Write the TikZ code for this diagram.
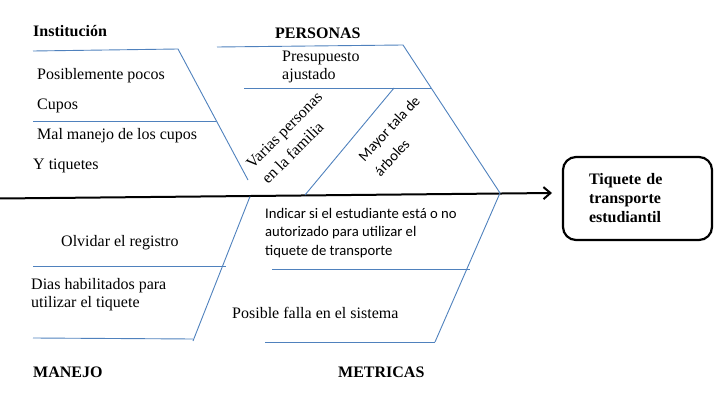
\documentclass[tikz,border=0pt]{standalone}
\usepackage{fontspec}
\setmainfont{Liberation Serif}
\newfontfamily\calibri{Carlito}
\usepackage{tikz}
\usetikzlibrary{arrows.meta}
\definecolor{bonedraw}{HTML}{4F81BD}
\tikzset{
  bone/.style={draw=bonedraw, line width=0.9pt},
  spine/.style={draw=black, line width=2pt, -{Straight Barb[length=7pt, width=12pt]}},
  cause/.style={anchor=base west, inner sep=0pt, align=left, font=\fontsize{16}{18}\selectfont},
  causesf/.style={cause, font=\calibri\fontsize{14.67}{18.5}\selectfont},
  head/.style={cause, font=\fontsize{16}{18}\selectfont\bfseries},
  slant/.style={inner sep=0pt, align=left},
  effect/.style={rectangle, rounded corners=13pt, draw=black, line width=2.2pt, align=left, font=\fontsize{16}{19}\selectfont\bfseries, text width=97pt, inner xsep=26pt, inner ysep=0pt, minimum height=83pt},
}
\begin{document}
\begin{tikzpicture}[x=1pt, y=-1pt]
  \useasboundingbox (0,0) rectangle (726,401);
  % efecto y espina
  \node[effect] (efecto) at (637.5,198.5) {Tiquete de\\transporte\\estudiantil};
  \coordinate (tail) at (0,198.5);
  \coordinate (tip) at (552,193);
  \draw[spine] (tail) -- (tip);
  % Institucion
  \coordinate (i1) at (33,51);
  \coordinate (i2) at (178,49);
  \coordinate (i3) at (248,180);
  \coordinate (i4) at (33,121);
  \coordinate (i5) at (216,121);
  \draw[bone] (i1) -- (i2) -- (i3);
  \draw[bone] (i4) -- (i5);
  \node[head] (inst) at (33,37) {Institución};
  \node[cause] (inst_a) at (37,80)  {Posiblemente pocos};
  \node[cause] (inst_b) at (37,110) {Cupos};
  \node[cause] (inst_c) at (37,140) {Mal manejo de los cupos};
  \node[cause] (inst_d) at (33,170) {Y tiquetes};
  % Personas
  \coordinate (p1) at (217,47);
  \coordinate (p2) at (403,45);
  \coordinate (p3) at (500,193);
  \coordinate (p4) at (244,88);
  \coordinate (p5) at (431,88);
  \coordinate (p6) at (394,88);
  \coordinate (p7) at (305,195);
  \draw[bone] (p1) -- (p2) -- (p3);
  \draw[bone] (p4) -- (p5);
  \draw[bone] (p6) -- (p7);
  \node[head] (pers) at (275,39) {PERSONAS};
  \node[cause] (pers_a) at (282,80) {Presupuesto\\ajustado};
  \node[slant, rotate=45, font=\fontsize{16}{22}\selectfont] (pers_b) at (292,138) {Varias personas\\en la familia};
  \node[slant, rotate=47, font=\calibri\fontsize{14.67}{22}\selectfont] (pers_c) at (397,136) {Mayor tala de\\árboles};
  % Manejo
  \coordinate (m1) at (250,196.5);
  \coordinate (m2) at (193,341);
  \coordinate (m3) at (33,266);
  \coordinate (m4) at (226,266);
  \coordinate (m5) at (33,338);
  \coordinate (m6) at (193,339);
  \draw[bone] (m1) -- (m2);
  \draw[bone] (m3) -- (m4);
  \draw[bone] (m5) -- (m6);
  \node[cause] (man_a) at (61,247) {Olvidar el registro};
  \node[cause] (man_b) at (31,307) {Dias habilitados para\\utilizar el tiquete};
  \node[head] (man) at (33,377) {MANEJO};
  % Metricas
  \coordinate (t1) at (435,342);
  \coordinate (t2) at (272,269);
  \coordinate (t3) at (470,269);
  \coordinate (t4) at (265,342);
  \draw[bone] (p3) -- (t1);
  \draw[bone] (t2) -- (t3);
  \draw[bone] (t4) -- (t1);
  \node[causesf] (met_a) at (265,255) {Indicar si el estudiante está o no\\autorizado para utilizar el\\tiquete de transporte};
  \node[cause] (met_b) at (232,318) {Posible falla en el sistema};
  \node[head] (met) at (338,377) {METRICAS};
\end{tikzpicture}
\end{document}
